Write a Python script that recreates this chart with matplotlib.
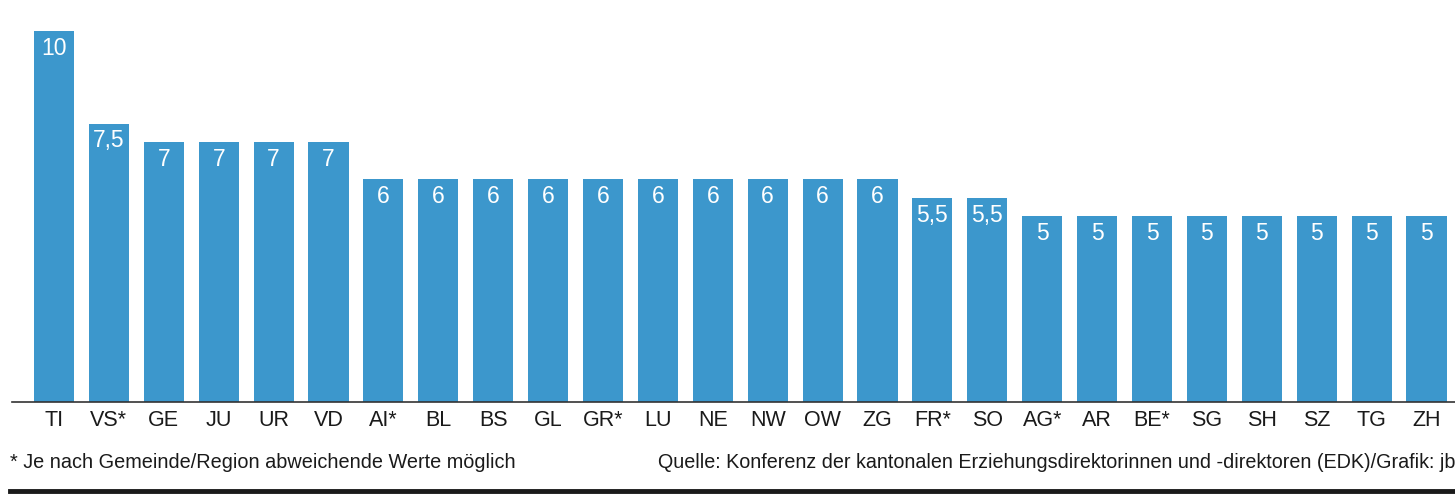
import matplotlib.pyplot as plt

plt.rcParams['font.family'] = ['Liberation Sans', 'DejaVu Sans']

# Kantone und Werte (Reihenfolge wie in der Vorlage)
cantons = ['TI', 'VS*', 'GE', 'JU', 'UR', 'VD', 'AI*', 'BL', 'BS', 'GL', 'GR*',
           'LU', 'NE', 'NW', 'OW', 'ZG', 'FR*', 'SO', 'AG*', 'AR', 'BE*', 'SG',
           'SH', 'SZ', 'TG', 'ZH']
values = [10, 7.5, 7, 7, 7, 7, 6, 6, 6, 6, 6, 6, 6, 6, 6, 6, 5.5, 5.5,
          5, 5, 5, 5, 5, 5, 5, 5]

footnote = '* Je nach Gemeinde/Region abweichende Werte möglich'
source = 'Quelle: Konferenz der kantonalen Erziehungsdirektorinnen und -direktoren (EDK)/Grafik: jb'

W, H = 1455, 498
fig = plt.figure(figsize=(W / 100, H / 100), dpi=100)

# Achsen: Grundlinie bei y=402 px, links bei x=12 px
base_px = 402
ax = fig.add_axes([12 / W, (H - base_px) / H, 1 - 12 / W, base_px / H])

step = 54.9
x0 = 54
ax.set_xlim((12 - x0) / step, (W - x0) / step)
ax.set_ylim(0, base_px / 37.1)

xs = range(len(cantons))
bars = ax.bar(xs, values, width=0.73, color='#3c97cc')

for x, v in zip(xs, values):
    txt = ('%g' % v).replace('.', ',')
    ax.annotate(txt, (x, v), xytext=(0, -4), textcoords='offset points',
                ha='center', va='top', color='white', fontsize=16.5)

ax.set_xticks(list(xs))
ax.set_xticklabels(cantons, fontsize=15.5, color='#1a1a1a')
ax.tick_params(axis='x', length=0, pad=6)
ax.set_yticks([])
for s in ['top', 'right', 'left']:
    ax.spines[s].set_visible(False)
ax.spines['bottom'].set_color('#333333')
ax.spines['bottom'].set_linewidth(1.2)

fig.text(10 / W, 1 - 462 / H, footnote, fontsize=14.3, color='#1a1a1a',
         va='center', ha='left')
fig.text(658 / W, 1 - 462 / H, source, fontsize=14.2, color='#1a1a1a',
         va='center', ha='left')

fig.add_artist(plt.Line2D([10 / W, 1], [1 - 491 / H, 1 - 491 / H],
                          transform=fig.transFigure, color='#1a1a1a', lw=3.5))

fig.savefig('out.png', dpi=100)
